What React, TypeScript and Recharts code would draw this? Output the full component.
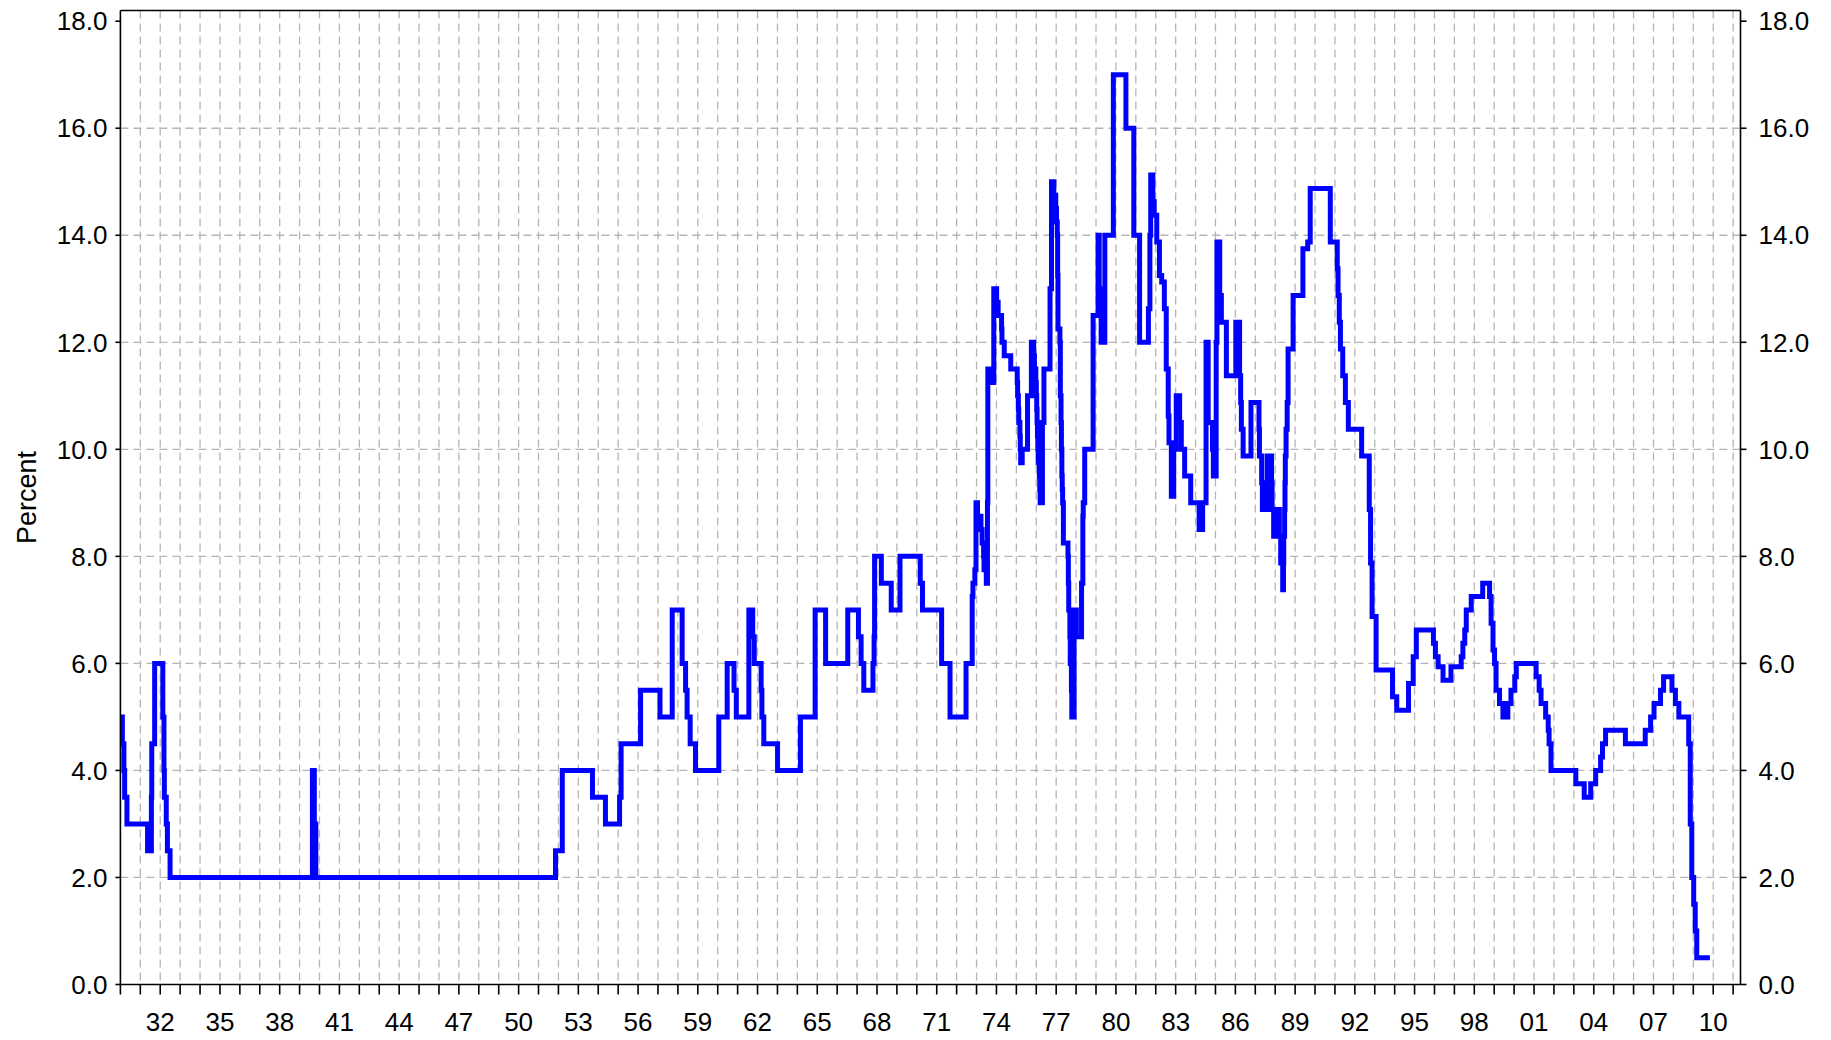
import React from 'react';
import { LineChart, Line, XAxis, YAxis, CartesianGrid, ReferenceLine, Label } from 'recharts';

// ---- Data: official rate change dates and the rate in force from that date (percent) ----
const dates1930to1971 = [
  '1930-01-01', '1930-02-06', '1930-03-06', '1930-03-20', '1930-05-01',
  '1931-05-14', '1931-07-23', '1931-07-30', '1931-09-21',
  '1932-02-18', '1932-03-10', '1932-03-17', '1932-04-21', '1932-05-12', '1932-06-30',
  '1939-08-24', '1939-09-28', '1939-10-26',
  '1951-11-08', '1952-03-12', '1953-09-17', '1954-05-13',
  '1955-01-27', '1955-02-24', '1956-02-16',
  '1957-02-07', '1957-09-19',
  '1958-03-20', '1958-05-22', '1958-06-19', '1958-08-14', '1958-11-20',
  '1960-01-21', '1960-06-23', '1960-10-27', '1960-12-08',
  '1961-07-26', '1961-10-05', '1961-11-02',
  '1962-03-08', '1962-03-22', '1962-04-26',
  '1963-01-03', '1964-02-27', '1964-11-23', '1965-06-03', '1966-07-14',
  '1967-01-26', '1967-03-16', '1967-05-04', '1967-10-19', '1967-11-09', '1967-11-18',
  '1968-03-21', '1968-09-19', '1969-02-27',
  '1970-03-05', '1970-04-15', '1971-04-01', '1971-09-02',
];
const rates1930to1971 = [
  5, 4.5, 4, 3.5, 3,
  2.5, 3.5, 4.5, 6,
  5, 4, 3.5, 3, 2.5, 2,
  4, 3, 2,
  2.5, 4, 3.5, 3,
  3.5, 4.5, 5.5,
  5, 7,
  6, 5.5, 5, 4.5, 4,
  5, 6, 5.5, 5,
  7, 6.5, 6,
  5.5, 5, 4.5,
  4, 5, 7, 6, 7,
  6.5, 6, 5.5, 6, 6.5, 8,
  7.5, 7, 8,
  7.5, 7, 6, 5,
];

const dates1972to1980 = [
  '1972-06-22', '1972-10-13', '1972-10-27', '1972-12-01', '1972-12-22',
  '1973-01-19', '1973-03-23', '1973-04-13', '1973-05-11', '1973-05-18', '1973-06-29', '1973-07-20', '1973-07-27', '1973-10-19', '1973-11-13',
  '1974-01-04', '1974-02-01', '1974-04-05', '1974-04-12', '1974-05-24', '1974-09-20',
  '1975-01-17', '1975-01-24', '1975-02-07', '1975-02-14', '1975-03-07', '1975-03-14', '1975-03-21', '1975-04-18', '1975-07-25', '1975-10-03', '1975-11-14', '1975-11-28', '1975-12-24',
  '1976-01-02', '1976-01-09', '1976-01-16', '1976-01-23', '1976-01-30', '1976-02-06', '1976-02-27', '1976-03-05', '1976-03-12', '1976-04-23', '1976-05-21', '1976-09-10', '1976-10-07', '1976-11-19', '1976-12-24',
  '1977-01-07', '1977-01-21', '1977-01-28', '1977-02-03', '1977-03-10', '1977-03-18', '1977-03-31', '1977-04-07', '1977-04-15', '1977-04-22', '1977-04-29', '1977-05-13', '1977-08-05', '1977-08-12', '1977-08-19', '1977-09-09', '1977-09-16', '1977-10-07', '1977-10-14', '1977-11-25',
  '1978-01-06', '1978-04-11', '1978-05-05', '1978-05-12', '1978-06-08', '1978-11-09',
  '1979-02-08', '1979-03-01', '1979-04-05', '1979-06-12', '1979-11-15',
  '1980-07-03', '1980-11-25',
];
const rates1972to1980 = [
  6, 7.25, 7.5, 7.75, 9,
  8.75, 8.5, 8.25, 8, 7.75, 7.5, 9, 11.5, 11.25, 13,
  12.75, 12.5, 12.25, 12, 11.75, 11.5,
  11.25, 11, 10.75, 10.5, 10.25, 10, 9.75, 10, 11, 12, 11.75, 11.5, 11.25,
  11, 10.75, 10.5, 10.25, 10, 9.75, 9.5, 9.25, 9, 10.5, 11.5, 13, 15, 14.75, 14.5,
  14.25, 14, 13.25, 12.25, 12, 11, 10.5, 10, 9.5, 9.25, 9, 8.25, 8, 7.5, 7, 6.5, 6, 5.5, 5, 7,
  6.5, 7.5, 8.75, 9, 10, 12.5,
  14, 13, 12, 14, 17,
  16, 14,
];

const dates1981to1996 = [
  '1981-03-11', '1981-08-20', '1981-09-16', '1981-10-01', '1981-11-09', '1981-12-04',
  '1982-01-20', '1982-03-10', '1982-04-20', '1982-06-08', '1982-07-13', '1982-08-18', '1982-09-01', '1982-10-14', '1982-11-26',
  '1983-01-12', '1983-03-15', '1983-04-15', '1983-06-15', '1983-10-04',
  '1984-03-07', '1984-05-10', '1984-07-12', '1984-08-20', '1984-11-07', '1984-11-23',
  '1985-01-14', '1985-01-28', '1985-03-20', '1985-04-19', '1985-07-20',
  '1986-01-09', '1986-03-19', '1986-04-08', '1986-04-21', '1986-05-23', '1986-10-14',
  '1987-03-10', '1987-03-18', '1987-04-28', '1987-05-11', '1987-08-07', '1987-10-26', '1987-11-05', '1987-12-04',
  '1988-02-02', '1988-03-17', '1988-04-11', '1988-05-18', '1988-06-02', '1988-06-06', '1988-06-22', '1988-06-29', '1988-07-05', '1988-07-19', '1988-08-08', '1988-08-25', '1988-11-25',
  '1989-05-24', '1989-08-20', '1989-10-05',
  '1990-10-08',
  '1991-02-13', '1991-02-27', '1991-03-22', '1991-04-12', '1991-05-24', '1991-07-12', '1991-09-04',
  '1992-05-05', '1992-09-22', '1992-10-16', '1992-11-13',
  '1993-01-26', '1993-11-23',
  '1994-02-08', '1994-09-12', '1994-12-07',
  '1995-02-02', '1995-12-13',
  '1996-01-18', '1996-03-08', '1996-06-06', '1996-10-30',
];
const rates1981to1996 = [
  12, 12.625, 14, 15.125, 14.625, 14.375,
  13.875, 13.25, 13.125, 12.625, 11.5, 10.625, 10.125, 9.125, 10,
  11, 10.5, 10, 9.5, 9,
  8.5, 9, 12, 10.5, 10, 9.5,
  12, 13.875, 12.875, 12.375, 11.375,
  12.375, 11.375, 10.875, 10.375, 9.875, 10.875,
  10.375, 9.875, 9.375, 8.875, 9.875, 9.375, 8.875, 8.375,
  8.875, 8.375, 7.875, 7.375, 7.875, 8.375, 8.875, 9.375, 9.875, 10.375, 10.875, 11.875, 12.875,
  13.75, 13.875, 14.875,
  13.875,
  13.375, 12.875, 12.375, 11.875, 11.375, 10.875, 10.375,
  9.875, 8.875, 7.875, 6.875,
  5.875, 5.375,
  5.125, 5.625, 6.125,
  6.625, 6.375,
  6.125, 5.9375, 5.6875, 5.9375,
];

const dates1997to2009 = [
  '1997-05-06', '1997-06-06', '1997-07-10', '1997-08-07', '1997-11-06',
  '1998-06-04', '1998-10-08', '1998-11-05', '1998-12-10',
  '1999-01-07', '1999-02-04', '1999-04-08', '1999-06-10', '1999-09-08', '1999-11-04',
  '2000-01-13', '2000-02-10',
  '2001-02-08', '2001-04-05', '2001-05-10', '2001-08-02', '2001-09-18', '2001-10-04', '2001-11-08',
  '2003-02-06', '2003-07-10', '2003-11-06',
  '2004-02-05', '2004-05-06', '2004-06-10', '2004-08-05',
  '2005-08-04', '2006-08-03', '2006-11-09',
  '2007-01-11', '2007-05-10', '2007-07-05', '2007-12-06',
  '2008-02-07', '2008-04-10', '2008-10-08', '2008-11-06', '2008-12-04',
  '2009-01-08', '2009-02-05', '2009-03-05', '2009-11-01',
];
const rates1997to2009 = [
  6.125, 6.375, 6.625, 7, 7.25,
  7.5, 7.25, 6.75, 6.25,
  6, 5.5, 5.25, 5, 5.25, 5.5,
  5.75, 6,
  5.75, 5.5, 5.25, 5, 4.75, 4.5, 4,
  3.75, 3.5, 3.75,
  4, 4.25, 4.5, 4.75,
  4.5, 4.75, 5,
  5.25, 5.5, 5.75, 5.5,
  5.25, 5, 4.5, 3, 2,
  1.5, 1, 0.5, 0.5,
];

// ---- Axis ticks / labels ----
const labelYears = [1932, 1935, 1938, 1941, 1944, 1947, 1950, 1953, 1956, 1959, 1962, 1965, 1968, 1971, 1974, 1977, 1980, 1983, 1986, 1989, 1992, 1995, 1998, 2001, 2004, 2007, 2010];
const yearLabels = ['32', '35', '38', '41', '44', '47', '50', '53', '56', '59', '62', '65', '68', '71', '74', '77', '80', '83', '86', '89', '92', '95', '98', '01', '04', '07', '10'];
const percentTicks = [0, 2, 4, 6, 8, 10, 12, 14, 16, 18];
const gridPercents = [2, 4, 6, 8, 10, 12, 14, 16];
const X_MIN = 1930;
const X_MAX = 2011.37;
const Y_MAX = 18.2;
const yearTicks = Array.from({ length: 82 }, (_, i) => X_MIN + i); // 1930..2011
const gridYears = yearTicks.slice(1);

const toYear = (s: string) => {
  const [y, m, d] = s.split('-').map(Number);
  const start = Date.UTC(y, 0, 1);
  const end = Date.UTC(y + 1, 0, 1);
  return y + (Date.UTC(y, m - 1, d) - start) / (end - start);
};

const allDates = [...dates1930to1971, ...dates1972to1980, ...dates1981to1996, ...dates1997to2009];
const allRates = [...rates1930to1971, ...rates1972to1980, ...rates1981to1996, ...rates1997to2009];
const data = allDates.map((d, i) => ({ t: toYear(d), rate: allRates[i] }));

const FONT = "'Liberation Sans', Arial, Helvetica, sans-serif";
const tickStyle = { fill: '#000', fontSize: 26, fontFamily: FONT };
const axisStroke = { stroke: '#000', strokeWidth: 1.6 };

const fmtYear = (v: number) => {
  const idx = labelYears.indexOf(Math.round(v));
  return idx >= 0 ? yearLabels[idx] : '';
};

const PercentLabel = () => (
  <text
    x={36}
    y={497.5}
    transform="rotate(-90 36 497.5)"
    textAnchor="middle"
    fill="#000"
    fontSize={27}
    fontFamily={FONT}
  >
    Percent
  </text>
);

export default function App() {
  return (
    <div style={{ position: 'absolute', left: 0, top: 0, width: 1831, height: 1040, background: '#fff' }}>
      <LineChart width={1831} height={1040} data={data} margin={{ top: 10.5, right: 10.5, bottom: 0, left: 8.4 }}>
        <CartesianGrid
          stroke="#b5b5b5"
          strokeDasharray="8 5"
          strokeWidth={1.3}
          horizontalValues={gridPercents}
          verticalValues={gridYears}
        />
        <XAxis
          type="number"
          dataKey="t"
          domain={[X_MIN, X_MAX]}
          allowDataOverflow
          ticks={yearTicks}
          interval={0}
          tickFormatter={fmtYear}
          height={55.5}
          tickSize={10}
          tickMargin={18.5}
          axisLine={axisStroke}
          tickLine={axisStroke}
          tick={tickStyle}
        />
        <YAxis
          domain={[0, Y_MAX]}
          allowDataOverflow
          ticks={percentTicks}
          interval={0}
          tickFormatter={(v: number) => v.toFixed(1)}
          width={112}
          tickSize={5}
          tickMargin={8}
          axisLine={axisStroke}
          tickLine={axisStroke}
          tick={tickStyle}
          label={<Label content={PercentLabel} />}
        />
        <YAxis
          yAxisId="right"
          orientation="right"
          domain={[0, Y_MAX]}
          allowDataOverflow
          ticks={percentTicks}
          interval={0}
          tickFormatter={(v: number) => v.toFixed(1)}
          width={80}
          tickSize={6}
          tickMargin={12}
          axisLine={axisStroke}
          tickLine={axisStroke}
          tick={tickStyle}
        />
        <ReferenceLine y={Y_MAX} stroke="#000" strokeWidth={1.6} />
        <Line
          type="stepAfter"
          dataKey="rate"
          stroke="#0000ff"
          strokeWidth={5}
          dot={false}
          activeDot={false}
          isAnimationActive={false}
        />
      </LineChart>
    </div>
  );
}
